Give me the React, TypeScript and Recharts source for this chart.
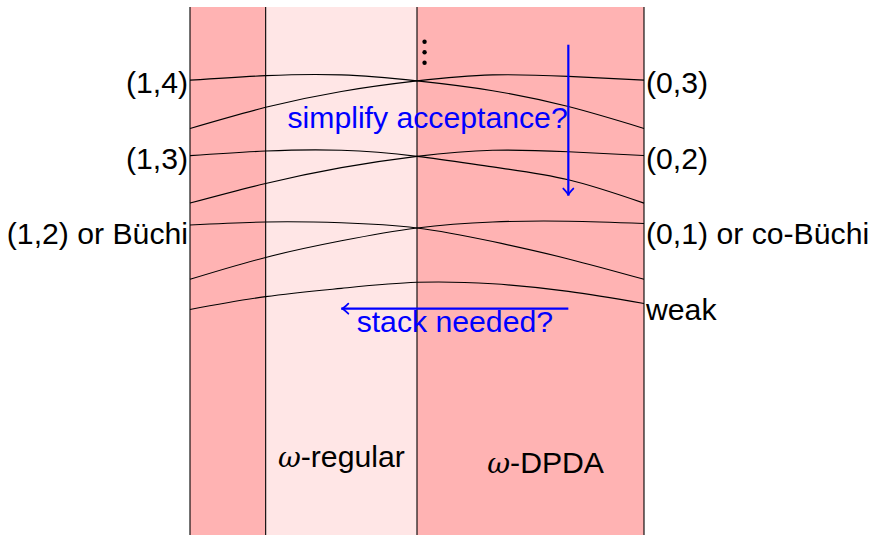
import React from "react";
import {
  ComposedChart,
  Line,
  XAxis,
  YAxis,
  ReferenceArea,
  ReferenceLine,
  ReferenceDot,
  Scatter,
} from "recharts";

// x positions (diagram units) where the curves were read
const xs = [0, 1, 2, 3, 4, 5, 6];

// curves (y in diagram units, 0 = bottom)
const a1 = [6.03, 6.09, 6.1, 6.02, 5.89, 5.68, 5.39];
const b1 = [5.39, 5.67, 5.88, 6.02, 6.1, 6.08, 6.03];
const a2 = [5.03, 5.09, 5.1, 5.02, 4.88, 4.71, 4.4];
const b2 = [4.4, 4.66, 4.87, 5.02, 5.1, 5.08, 5.03];
const a3 = [4.11, 4.15, 4.14, 4.07, 3.89, 3.66, 3.39];
const b3 = [3.39, 3.68, 3.9, 4.07, 4.15, 4.16, 4.13];
const weakCurve = [2.99, 3.16, 3.27, 3.35, 3.33, 3.23, 3.07];

const seriesKeys = ["a1", "b1", "a2", "b2", "a3", "b3", "weak"];
const seriesValues = [a1, b1, a2, b2, a3, b3, weakCurve];

// background bands
const bandStarts = [0, 1, 3];
const bandEnds = [1, 3, 6];
const bandLight = [false, true, false];

const dividers = [0, 1, 3, 6];

// labels
const leftLabels = ["(1,4)", "(1,3)", "(1,2) or Büchi"];
const leftLabelY = [6, 5, 4];
const rightLabels = ["(0,3)", "(0,2)", "(0,1) or co-Büchi", "weak"];
const rightLabelY = [6, 5, 4, 3];

const blueTexts = ["simplify acceptance?", "stack needed?"];
const blueTextX = [3.14, 3.5];
const blueTextY = [5.54, 2.83];

const classNames = ["-regular", "-DPDA"];
const classX = [2.0, 4.7];
const classY = [1.04, 0.97];

// vertical dots
const vdots = [
  { x: 3.1, y: 6.54 },
  { x: 3.1, y: 6.4 },
  { x: 3.1, y: 6.26 },
];

// arrows
const arrows = [
  [{ x: 5, y: 6.5 }, { x: 5, y: 4.5 }],
  [{ x: 5, y: 3 }, { x: 2, y: 3 }],
];

const data = xs.map((x, i) => {
  const row: { [k: string]: number } = { x };
  seriesKeys.forEach((k, j) => {
    row[k] = seriesValues[j][i];
  });
  return row;
});

const SANS = "'Liberation Sans', Arial, Helvetica, sans-serif";
const FS = 30.2;
const DARK = "#FFB3B3";
const LIGHT = "#FFE6E6";
const BLUE = "#0000FF";

const textLabel =
  (text: string, anchor: "start" | "middle" | "end", dx: number, color: string) =>
  (props: any) => {
    const vb = props.viewBox || {};
    const x = (vb.x || 0) + (vb.width || 0) / 2;
    const y = (vb.y || 0) + (vb.height || 0) / 2;
    return (
      <text
        x={x + dx}
        y={y + 0.36 * FS}
        textAnchor={anchor}
        fill={color}
        fontSize={FS}
        fontFamily={SANS}
      >
        {text}
      </text>
    );
  };

const omegaLabel = (text: string) => (props: any) => {
  const vb = props.viewBox || {};
  const x = (vb.x || 0) + (vb.width || 0) / 2;
  const y = (vb.y || 0) + (vb.height || 0) / 2;
  return (
    <text x={x} y={y + 0.36 * FS} textAnchor="middle" fill="#000" fontSize={FS} fontFamily={SANS}>
      <tspan fontFamily="'DejaVu Serif', serif" fontStyle="italic" fontSize={28}>
        ω
      </tspan>
      <tspan>{text}</tspan>
    </text>
  );
};

const arrowShape = (props: any) => {
  const { x1, y1, x2, y2 } = props;
  const len = Math.hypot(x2 - x1, y2 - y1) || 1;
  const ux = (x2 - x1) / len;
  const uy = (y2 - y1) / len;
  const nx = -uy;
  const ny = ux;
  const h = 7;
  const w = 5;
  const head = `M${x2 - ux * h + nx * w},${y2 - uy * h + ny * w} Q${x2 - ux * 2},${y2 - uy * 2} ${x2},${y2} Q${x2 - ux * 2},${y2 - uy * 2} ${x2 - ux * h - nx * w},${y2 - uy * h - ny * w}`;
  return (
    <g>
      <line x1={x1} y1={y1} x2={x2} y2={y2} stroke={BLUE} strokeWidth={2.2} />
      <path d={head} stroke={BLUE} strokeWidth={1.8} fill="none" strokeLinecap="round" />
    </g>
  );
};

export default function App() {
  return (
    <div style={{ position: "absolute", left: 0, top: 0, width: 871, height: 535, background: "#fff" }}>
      <ComposedChart
        width={871}
        height={535}
        data={data}
        margin={{ top: 7, right: 227, bottom: 0, left: 190 }}
      >
        <XAxis type="number" dataKey="x" domain={[0, 6]} hide />
        <YAxis type="number" domain={[0, 7]} hide />

        {bandStarts.map((s, i) => (
          <ReferenceArea
            key={`band-${i}`}
            x1={s}
            x2={bandEnds[i]}
            y1={0}
            y2={7}
            fill={bandLight[i] ? LIGHT : DARK}
            fillOpacity={1}
            stroke="none"
          />
        ))}

        {dividers.map((d) => (
          <ReferenceLine key={`div-${d}`} x={d} stroke="#000" strokeWidth={1.1} />
        ))}

        {seriesKeys.map((k) => (
          <Line
            key={k}
            dataKey={k}
            type="natural"
            stroke="#000"
            strokeWidth={1.1}
            dot={false}
            activeDot={false}
            isAnimationActive={false}
          />
        ))}

        <Scatter
          data={vdots}
          dataKey="y"
          fill="#000"
          isAnimationActive={false}
          shape={(p: any) => <circle cx={p.cx} cy={p.cy} r={2.2} fill="#000" />}
        />

        {arrows.map((seg, i) => (
          <ReferenceLine key={`arrow-${i}`} segment={seg} shape={arrowShape} />
        ))}

        {leftLabels.map((t, i) => (
          <ReferenceDot
            key={`ll-${i}`}
            x={0}
            y={leftLabelY[i]}
            r={0}
            fill="none"
            stroke="none"
            label={textLabel(t, "end", -2, "#000")}
          />
        ))}
        {rightLabels.map((t, i) => (
          <ReferenceDot
            key={`rl-${i}`}
            x={6}
            y={rightLabelY[i]}
            r={0}
            fill="none"
            stroke="none"
            label={textLabel(t, "start", 2, "#000")}
          />
        ))}
        {blueTexts.map((t, i) => (
          <ReferenceDot
            key={`bt-${i}`}
            x={blueTextX[i]}
            y={blueTextY[i]}
            r={0}
            fill="none"
            stroke="none"
            label={textLabel(t, "middle", 0, BLUE)}
          />
        ))}
        {classNames.map((t, i) => (
          <ReferenceDot
            key={`cn-${i}`}
            x={classX[i]}
            y={classY[i]}
            r={0}
            fill="none"
            stroke="none"
            label={omegaLabel(t)}
          />
        ))}
      </ComposedChart>
    </div>
  );
}
